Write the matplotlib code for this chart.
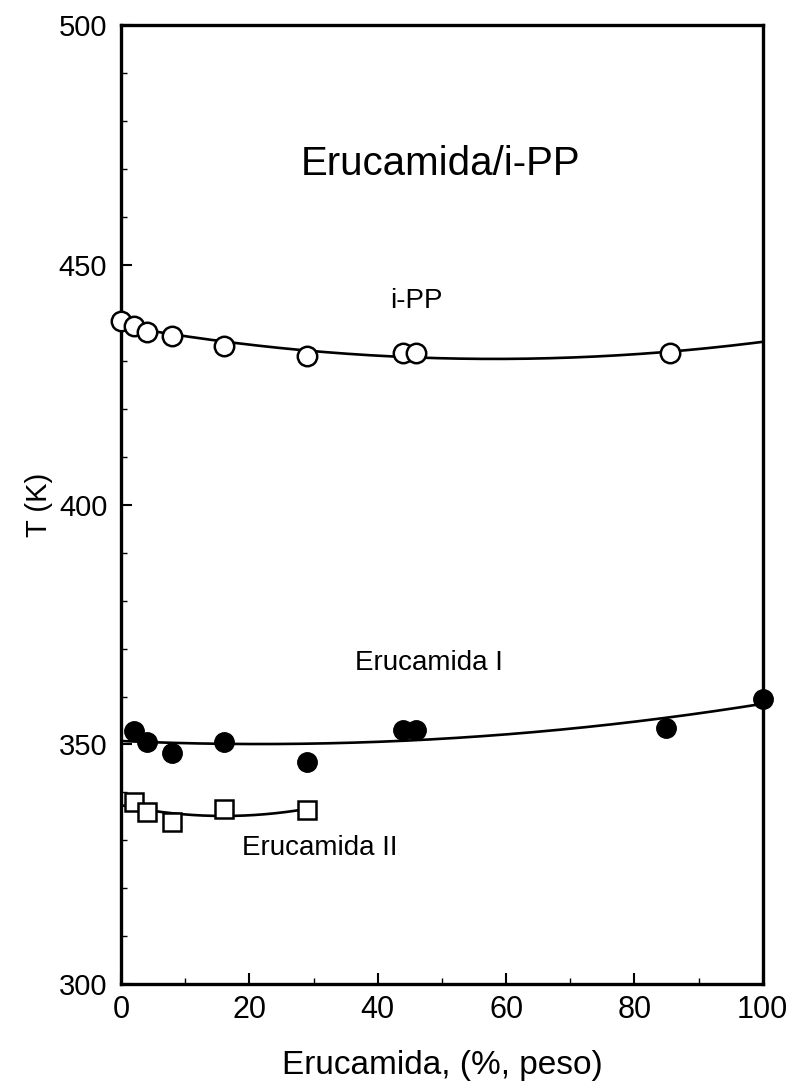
import matplotlib
matplotlib.use("Agg")
import matplotlib.pyplot as plt
from matplotlib.ticker import MultipleLocator
import numpy as np

plt.rcParams['font.family'] = ['Liberation Sans', 'DejaVu Sans']

# i-PP melting points (open circles)
ipp_x = [0, 2, 4, 8, 16, 29, 44, 46, 85.5]
ipp_t = [438.2, 437.2, 436.1, 435.2, 433.1, 431.0, 431.6, 431.6, 431.6]

# Erucamida I (filled circles)
eru1_x = [2, 4, 8, 16, 29, 44, 46, 85, 100]
eru1_t = [352.8, 350.5, 348.3, 350.5, 346.3, 353.1, 353.1, 353.5, 359.4]

# Erucamida II (open squares)
eru2_x = [2, 4, 8, 16, 29]
eru2_t = [338.0, 335.9, 333.8, 336.5, 336.3]

x_ticks = [0, 20, 40, 60, 80, 100]
y_ticks = [300, 350, 400, 450, 500]

fig = plt.figure(figsize=(7.92, 10.9), dpi=100)
ax = fig.add_axes([0.153, 0.097, 0.81, 0.88])


def fit_curve(x, y, x0, x1):
    # second order polynomial fit, as in the original figure
    c = np.polyfit(x, y, 2)
    xs = np.linspace(x0, x1, 200)
    return xs, np.polyval(c, xs)


xs, ys = fit_curve(ipp_x, ipp_t, 0, 100)
ax.plot(xs, ys, color='black', lw=1.9, zorder=2)
xs, ys = fit_curve(eru1_x, eru1_t, 0, 100)
ax.plot(xs, ys, color='black', lw=1.9, zorder=2)
xs, ys = fit_curve(eru2_x, eru2_t, 0, 29)
ax.plot(xs, ys, color='black', lw=1.9, zorder=2)

ax.plot(ipp_x, ipp_t, 'o', ms=14, mfc='white', mec='black', mew=1.8,
        clip_on=False, zorder=3)
ax.plot(eru1_x, eru1_t, 'o', ms=14, mfc='black', mec='black',
        clip_on=False, zorder=3)
ax.plot(eru2_x, eru2_t, 's', ms=12.5, mfc='white', mec='black', mew=1.8,
        clip_on=False, zorder=3)

ax.set_xlim(0, 100)
ax.set_ylim(300, 500)
ax.set_xticks(x_ticks)
ax.set_yticks(y_ticks)
ax.xaxis.set_minor_locator(MultipleLocator(10))
ax.yaxis.set_minor_locator(MultipleLocator(10))
ax.tick_params(which='major', direction='in', length=8, width=1.5,
               top=False, right=False)
ax.tick_params(which='minor', direction='in', length=4, width=1.0,
               top=False, right=False)
ax.tick_params(axis='x', labelsize=22, pad=8)
ax.tick_params(axis='y', labelsize=21, pad=10)
for s in ax.spines.values():
    s.set_linewidth(2.4)

ax.set_xlabel('Erucamida, (%, peso)', fontsize=24, labelpad=18)
ax.set_ylabel('T (K)', fontsize=21, labelpad=4)

ax.text(49.8, 471, 'Erucamida/i-PP', fontsize=29, ha='center', va='center')
ax.text(46, 442.5, 'i-PP', fontsize=20, ha='center', va='center')
ax.text(48, 367, 'Erucamida I', fontsize=20, ha='center', va='center')
ax.text(31, 328.5, 'Erucamida II', fontsize=20, ha='center', va='center')

fig.savefig('out.png', dpi=100)
